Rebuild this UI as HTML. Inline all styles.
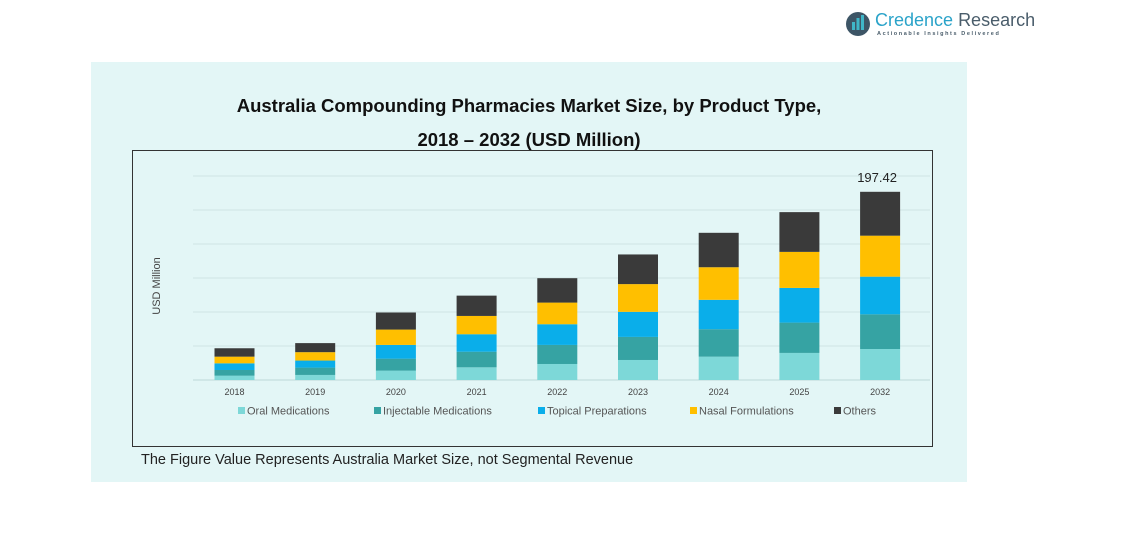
<!DOCTYPE html>
<html><head><meta charset="utf-8"><style>
body{margin:0;width:1137px;height:548px;background:#fff;position:relative;overflow:hidden;font-family:"Liberation Sans",sans-serif}
</style></head><body>
<svg width="1137" height="548" xmlns="http://www.w3.org/2000/svg">
<g>
<circle cx="858" cy="24" r="12" fill="#3d5566"/>
<rect x="852" y="22" width="3" height="8" fill="#3fb6c8"/><rect x="856.5" y="18" width="3" height="12" fill="#3fb6c8"/><rect x="861" y="15" width="3" height="15" fill="#3fb6c8"/>
<text x="875" y="26" font-size="18" fill="#2aa3c9">Credence <tspan fill="#4a5d6b">Research</tspan></text>
<text x="877" y="35" font-size="5.5" fill="#4a5d6b" letter-spacing="1.6" font-weight="bold">Actionable Insights Delivered</text>
</g>
<rect x="91" y="62" width="876" height="420" fill="#e3f6f6"/>
<text x="529" y="112" text-anchor="middle" font-size="18.5" font-weight="bold" fill="#111">Australia Compounding Pharmacies Market Size, by Product Type,</text>
<text x="529" y="146" text-anchor="middle" font-size="18.5" font-weight="bold" fill="#111">2018 – 2032 (USD Million)</text>
<rect x="132.5" y="150.5" width="800" height="296" fill="none" stroke="#333" stroke-width="1"/>
<text transform="translate(160,286) rotate(-90)" text-anchor="middle" font-size="11" fill="#444">USD Million</text>
<g id="grid"></g><g id="bars"></g><g id="xlabels"></g><g id="legend"></g>
<text x="141" y="464" font-size="14.5" fill="#222">The Figure Value Represents Australia Market Size, not Segmental Revenue</text>
</svg>
<script>
const categories=["2018","2019","2020","2021","2022","2023","2024","2025","2032"];
const seriesNames=["Oral Medications","Injectable Medications","Topical Preparations","Nasal Formulations","Others"];
const oral=[4.5,5.3,9.8,13.3,16.8,21.0,24.5,28.4,32.5];
const injectable=[6.0,7.7,12.6,16.4,20.0,24.2,28.8,31.8,36.4];
const topical=[7.0,7.4,14.4,18.3,21.7,26.3,30.8,36.4,39.5];
const nasal=[7.0,8.8,16.1,19.2,22.7,29.1,34.2,37.8,43.0];
const others=[8.8,9.5,17.9,21.3,25.6,31.1,36.1,41.7,46.02];
const topLabel="197.42";
const yMax=214,gridStep=35.67;
const colors=["#7dd8d8","#36a3a3","#0aaeea","#ffbf00","#3a3a3a"];
const NS="http://www.w3.org/2000/svg";
const base=380,plotH=204;
const y=v=>base-v/yMax*plotH;
const x=i=>234.5+i*80.7;
const bw=40;
function mk(t,a,p){const e=document.createElementNS(NS,t);for(const k in a)e.setAttribute(k,a[k]);document.getElementById(p).appendChild(e);return e;}
for(let g=0;g<=6;g++){
 const l=mk("line",{x1:193,x2:930,y1:y(g*gridStep),y2:y(g*gridStep),stroke:g==0?"#bcd8d8":"#cfe4e4","stroke-width":1},"grid");
 
 
}
const series=[oral,injectable,topical,nasal,others];
categories.forEach((c,i)=>{
 let acc=0;
 series.forEach((s,k)=>{
  const r=mk("rect",{x:x(i)-bw/2,y:y(acc+s[i]),width:bw,height:y(acc)-y(acc+s[i]),fill:colors[k]},"bars");
  
  
  acc+=s[i];
 });
 const t=mk("text",{x:x(i),y:395,"text-anchor":"middle","font-size":9,fill:"#444"},"xlabels");
 t.textContent=c;
 
 
 if(i==categories.length-1){
  const v=mk("text",{x:x(i)-3,y:y(acc)-10,"text-anchor":"middle","font-size":13,fill:"#222"},"bars");
  v.textContent=topLabel;
  
  
 }
});
const lx=[238,374,538,690,834];
seriesNames.forEach((n,k)=>{
 const s=mk("rect",{x:lx[k],y:407,width:7,height:7,fill:colors[k]},"legend");
 
 
 const t=mk("text",{x:lx[k]+9,y:414.5,"font-size":11,fill:"#555"},"legend");
 t.textContent=n;
 
 
});
</script>
</body></html>
